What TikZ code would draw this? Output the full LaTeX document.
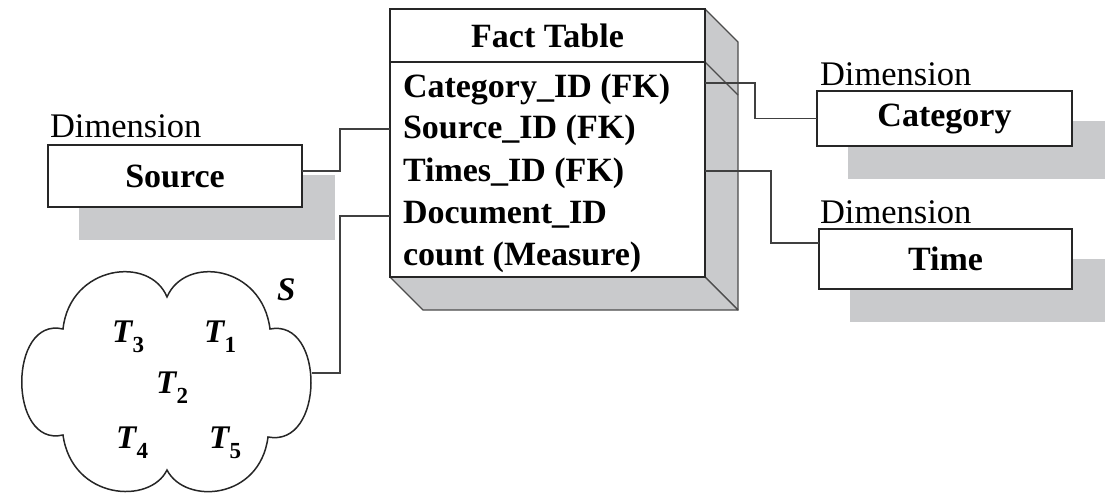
\documentclass[tikz,border=0pt]{standalone}
\usepackage{fontspec}
\setmainfont{Liberation Serif}
\usetikzlibrary{backgrounds,calc}
\definecolor{shadegray}{RGB}{201,202,204}
\newcommand{\Tsub}[1]{T\kern0.5pt\raisebox{-10pt}{\fontsize{23}{24}\selectfont\bfseries\upshape #1}}
\begin{document}
\begin{tikzpicture}[x=1pt,y=-1pt,
  every node/.style={inner sep=0pt, outer sep=0pt},
  dimbox/.style={draw=black!85, line width=1.5pt, fill=white, font=\fontsize{34}{40}\selectfont\bfseries},
  dimlabel/.style={anchor=base west, font=\fontsize{34.5}{40}\selectfont},
  rowtext/.style={anchor=base west, font=\fontsize{34}{40}\selectfont\bfseries},
  conn/.style={draw=black!75, line width=1.6pt},
  face/.style={fill=shadegray, draw=black!70, line width=1.3pt, line join=round},
  shadowfill/.style={fill=shadegray},
  tlabel/.style={anchor=base west, font=\fontsize{33}{38}\selectfont\bfseries\itshape}]
\useasboundingbox (0,0) rectangle (1112,495);

% --- fact table: extruded faces, then the front face ---
\path[face] (705,9) -- (738,42) -- (738,310) -- (705,277) -- cycle;
\path[face] (390,277) -- (705,277) -- (738,310) -- (423,310) -- cycle;
\draw[black!70, line width=1.3pt] (705,62) -- (738,95);
\node[draw=black!85, line width=1.5pt, fill=white, minimum width=315pt,
      minimum height=268pt, anchor=north west] (fact) at (390,9) {};
\draw[black!85, line width=1.5pt] (fact.west |- 0,62) -- (fact.east |- 0,62);
\node[anchor=base, font=\fontsize{34}{40}\selectfont\bfseries] (facthead) at (547.5,48) {Fact Table};
\node[rowtext] (catrow) at (403,97)  {Category\_ID (FK)};
\node[rowtext] (srcrow) at (403,139) {Source\_ID (FK)};
\node[rowtext] (timrow) at (403,181) {Times\_ID (FK)};
\node[rowtext] (docrow) at (403,223) {Document\_ID};
\node[rowtext] (cntrow) at (403,265) {count (Measure)};

% --- dimension tables ---
\node[dimbox, minimum width=254pt, minimum height=62pt] (src) at (175,176) {Source};
\node[dimbox, minimum width=255pt, minimum height=55pt] (cat) at (944.5,118.5) {Category};
\node[dimbox, minimum width=253pt, minimum height=60pt] (tim) at (945.5,259) {Time};
\node[dimlabel] (srclab) at (50,137) {Dimension};
\node[dimlabel] (catlab) at (820,85) {Dimension};
\node[dimlabel] (timlab) at (820,223) {Dimension};

\begin{pgfonlayer}{background}
  \foreach \b in {src,cat,tim}
    \fill[shadowfill] ([shift={(31,30)}]\b.north west) rectangle ([shift={(33,33)}]\b.south east);
\end{pgfonlayer}

% --- document cloud S ---
\draw[line width=1.5pt, black!85]
  (63,329) .. controls (70,265) and (150,255) .. (167,297)
           .. controls (185,255) and (262,265) .. (270,329)
           .. controls (325,318) and (325,448) .. (268,437)
           .. controls (260,500) and (185,505) .. (167,470)
           .. controls (150,505) and (72,500) .. (63,435)
           .. controls (8,448) and (8,316) .. cycle;
\coordinate (cloudE) at (312,373);
\node[tlabel] (s)  at (277,300) {S};
\node[tlabel] (t3) at (112,342) {\Tsub{3}};
\node[tlabel] (t1) at (204,342) {\Tsub{1}};
\node[tlabel] (t2) at (156,393) {\Tsub{2}};
\node[tlabel] (t4) at (116,448) {\Tsub{4}};
\node[tlabel] (t5) at (209,448) {\Tsub{5}};

% --- connectors ---
\draw[conn] (fact.east |- 0,83) -- (755,83) |- (cat.west);
\draw[conn] (fact.east |- 0,171) -- (771,171) |- (tim.west |- 0,243);
\draw[conn] (src.east |- 0,171) -- (340,171) |- (fact.west |- 0,129);
\draw[conn] (fact.west |- 0,216) -- (340,216) |- (cloudE);
\end{tikzpicture}
\end{document}
